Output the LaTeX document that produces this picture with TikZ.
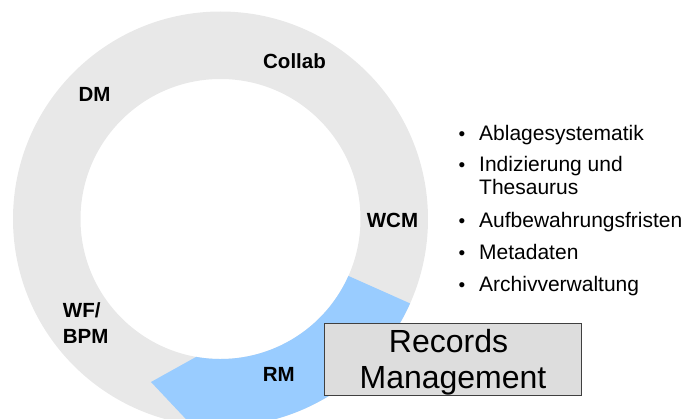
\documentclass[tikz,border=0pt]{standalone}
\usepackage{fontspec}
\setmainfont{Liberation Sans}
\definecolor{ringgray}{HTML}{E8E8E8}
\definecolor{rmblue}{HTML}{99CCFF}
\definecolor{boxgray}{HTML}{DDDDDD}
\definecolor{boxborder}{HTML}{404040}
\begin{document}
\begin{tikzpicture}[x=1pt,y=1pt,
  lbl/.style={font=\fontsize{20.5}{26.7}\selectfont\bfseries, inner sep=0pt},
  itm/.style={font=\fontsize{21}{22.5}\selectfont, inner sep=0pt, align=left, anchor=base west},
  bul/.style={font=\fontsize{19}{22.5}\selectfont, inner sep=0pt, anchor=base},
  rmboxstyle/.style={draw=boxborder, fill=boxgray, line width=0.8pt, minimum width=257pt, minimum height=72pt, inner sep=0pt},
  rmtextstyle/.style={font=\fontsize{32}{36}\selectfont, align=center, inner sep=0pt}]
\useasboundingbox (-220.5,-199) rectangle (464.5,219);
\clip (-220.5,-199) rectangle (464.5,219);
% ring
\fill[ringgray,even odd rule] (0,0) circle[radius=207.5] (0,0) circle[radius=140];
% RM segment
\fill[rmblue] (-24:140) arc[start angle=-24,end angle=-100,radius=140]
  -- (-69.5,-163) -- (-98.2:207.5) arc[start angle=-98.2,end angle=-24,radius=207.5] -- cycle;
% ring labels
\node[lbl,anchor=base] (collab) at (74,150.7) {Collab};
\node[lbl,anchor=base] (dm) at (-126,118) {DM};
\node[lbl,anchor=base] (wcm) at (172,-8.3) {WCM};
\node[lbl,anchor=base] (rm) at (58.2,-162) {RM};
\node[lbl,anchor=west,align=left] (wf) at (-157.8,-104.2) {WF/\\BPM};
% Records Management box
\node[rmboxstyle] (rmbox) at (232,-140) {};
\node[rmtextstyle] (rmtext) at (232.5,-143) {Records\kern0.28em\\Management};
% bullet list
\node[bul] (b1) at (241.5,79) {\textbullet};
\node[itm] (i1) at (258.5,79) {Ablagesystematik};
\node[bul] (b2) at (241.5,47.5) {\textbullet};
\node[itm] (i2) at (258.5,25) {Indizierung und\\Thesaurus};
\node[bul] (b3) at (241.5,-8.5) {\textbullet};
\node[itm] (i3) at (258.5,-8.5) {Aufbewahrungsfristen};
\node[bul] (b4) at (241.5,-40.5) {\textbullet};
\node[itm] (i4) at (258.5,-40.5) {Metadaten};
\node[bul] (b5) at (241.5,-72) {\textbullet};
\node[itm] (i5) at (258.5,-72) {Archivverwaltung};
\end{tikzpicture}
\end{document}
